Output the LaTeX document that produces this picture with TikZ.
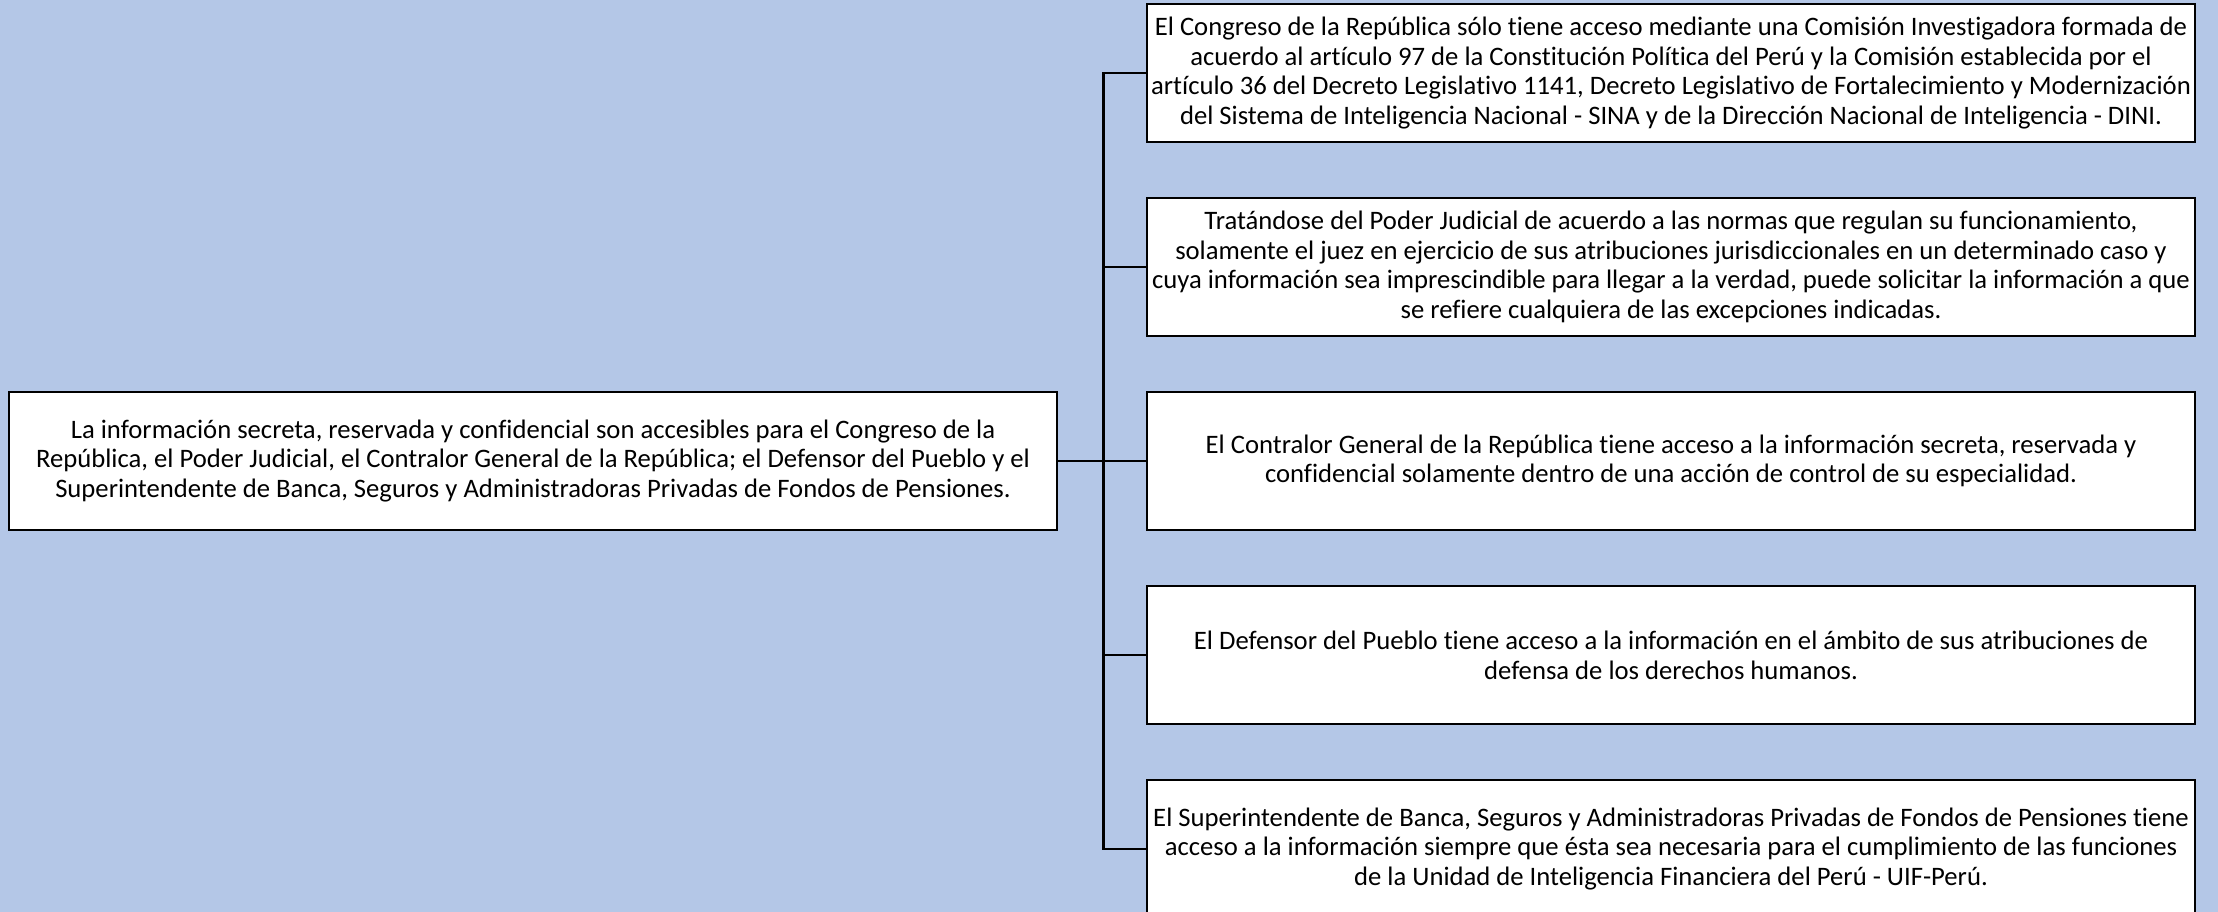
\documentclass[tikz,border=0pt]{standalone}
\usepackage{fontspec}
\setmainfont{Carlito}[Ligatures=NoCommon]
\usetikzlibrary{positioning}
\definecolor{bgblue}{HTML}{B4C7E7}

\begin{document}
\begin{tikzpicture}[x=0.75pt, y=-0.75pt,
  box/.style={draw, line width=2pt, fill=white, align=center, inner sep=2pt,
    minimum width=786pt, minimum height=103.5pt, font=\fontsize{20}{22.3}\selectfont},
  link/.style={line width=2pt}]
\fill [bgblue] (0, 0) rectangle (2218, 912);
\useasboundingbox (0, 0) rectangle (2218, 912);
\node [box] (main) at (533, 461) {La información secreta, reservada y confidencial son accesibles para el Congreso de la\\
  República, el Poder Judicial, el Contralor General de la República; el Defensor del Pueblo y el\\
  Superintendente de Banca, Seguros y Administradoras Privadas de Fondos de Pensiones.};
\node [box] (congreso) at (1671, 73) {El Congreso de la República sólo tiene acceso mediante una Comisión Investigadora formada de\\
  acuerdo al artículo 97 de la Constitución Política del Perú y la Comisión establecida por el\\
  artículo 36 del Decreto Legislativo 1141, Decreto Legislativo de Fortalecimiento y Modernización\\
  del Sistema de Inteligencia Nacional - SINA y de la Dirección Nacional de Inteligencia - DINI.};
\node [box] (judicial) at (1671, 267) {Tratándose del Poder Judicial de acuerdo a las normas que regulan su funcionamiento,\\
  solamente el juez en ejercicio de sus atribuciones jurisdiccionales en un determinado caso y\\
  cuya información sea imprescindible para llegar a la verdad, puede solicitar la información a que\\
  se refiere cualquiera de las excepciones indicadas.};
\node [box] (contralor) at (1671, 461) {El Contralor General de la República tiene acceso a la información secreta, reservada y\\
  confidencial solamente dentro de una acción de control de su especialidad.};
\node [box] (defensor) at (1671, 655) {El Defensor del Pueblo tiene acceso a la información en el ámbito de sus atribuciones de\\
  defensa de los derechos humanos.};
\node [box] (uif) at (1671, 849) {El Superintendente de Banca, Seguros y Administradoras Privadas de Fondos de Pensiones tiene\\
  acceso a la información siempre que ésta sea necesaria para el cumplimiento de las funciones\\
  de la Unidad de Inteligencia Financiera del Perú - UIF-Perú.};
\path (main.east) ++(45, 0) coordinate (fork);
\draw [link] (congreso.west) -| (fork) |- (uif.west);
\draw [link] (main.east) -- (contralor.west);
\foreach \n in {judicial, defensor}
  \draw [link] (fork |- \n.west) -- (\n.west);
\end{tikzpicture}
\end{document}
